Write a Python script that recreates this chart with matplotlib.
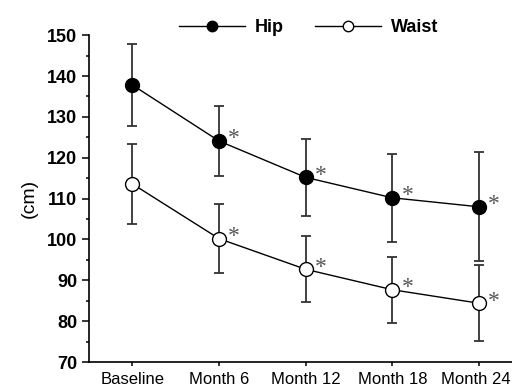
import numpy as np
import matplotlib.pyplot as plt
import matplotlib.transforms as mtransforms

labels = ['Baseline', 'Month 6', 'Month 12', 'Month 18', 'Month 24']
hip = [137.8, 124.1, 115.2, 110.2, 108.0]
hip_err = [10.0, 8.5, 9.4, 10.7, 13.3]
waist = [113.6, 100.2, 92.7, 87.7, 84.4]
waist_err = [9.8, 8.5, 8.1, 8.1, 9.3]
signif = [False, True, True, True, True]

plt.rcParams['font.family'] = ['Liberation Sans', 'DejaVu Sans']

fig = plt.figure(figsize=(5.12, 3.91), dpi=100)
ax = fig.add_axes([0.174, 0.074, 0.826, 0.836])
x = np.arange(len(labels))

ax.errorbar(x, hip, yerr=hip_err, fmt='none', ecolor='#333333', elinewidth=1.3,
            capsize=3.5, capthick=1.3, zorder=1)
ax.errorbar(x, waist, yerr=waist_err, fmt='none', ecolor='#333333', elinewidth=1.3,
            capsize=3.5, capthick=1.3, zorder=1)
h1, = ax.plot(x, hip, '-o', color='black', lw=1, mfc='black', mec='black',
              ms=10, zorder=3, label='Hip')
h2, = ax.plot(x, waist, '-o', color='black', lw=1, mfc='white', mec='black',
              ms=10, zorder=3, label='Waist')

# significance stars, upper right of each marker
for i in range(len(x)):
    if signif[i]:
        for v in (hip[i], waist[i]):
            ax.annotate('*', (x[i], v), xytext=(6.5, -2.5), textcoords='offset points',
                        fontsize=17, color='#555555', family='Liberation Serif',
                        ha='left', va='baseline')

ax.set_xlim(-0.5, 4.38)
ax.set_ylim(70, 150)
ax.set_yticks(np.arange(70, 151, 10))
ax.set_yticks(np.arange(75, 150, 10), minor=True)
ax.set_xticks(x)
ax.set_xticklabels(labels, fontsize=12)
for t in ax.get_yticklabels():
    t.set_fontweight('bold')
    t.set_fontsize(13)
ax.tick_params(axis='both', direction='out', length=5, width=1.1)
ax.tick_params(axis='y', which='minor', length=2.5, width=1.1)
ax.tick_params(axis='x', length=3, pad=4)
ax.spines['top'].set_visible(False)
ax.spines['right'].set_visible(False)
ax.spines['left'].set_linewidth(1.2)
ax.spines['bottom'].set_linewidth(1.2)
ax.set_ylabel('(cm)', fontsize=14, labelpad=7)

# last label sits against the right edge
last = ax.get_xticklabels()[-1]
last.set_transform(last.get_transform() +
                   mtransforms.ScaledTranslation(-3 / 100, 0, fig.dpi_scale_trans))

fig.legend(handles=[h1, h2], loc='center', bbox_to_anchor=(0.603, 0.93),
           ncol=2, frameon=False, handlelength=3.67, columnspacing=1.7,
           handletextpad=0.55, markerscale=0.75, borderpad=0,
           prop={'weight': 'bold', 'size': 13})

fig.savefig('out.png', dpi=100)
